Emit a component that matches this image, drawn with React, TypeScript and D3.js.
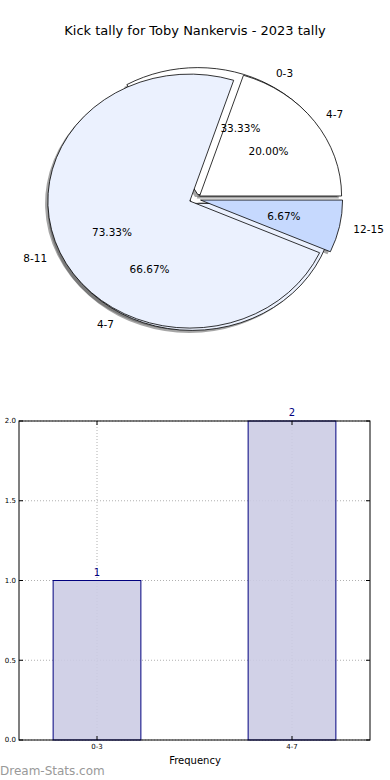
import React from 'react';
import * as d3 from 'd3';

// 下のパイ（度数）
const pieACats = ['0-3', '4-7'];
const pieAValues = [1, 2];
const pieAColors = ['#ffffff', '#ebf1fe'];

// 上のパイ
const pieBCats = ['4-7', '8-11', '12-15'];
const pieBValues = [3, 11, 1];
const pieBColors = ['#ffffff', '#ebf1fe', '#c6d9fe'];

// 棒グラフ
const barCats = ['0-3', '4-7'];
const barValues = [1, 2];
const yTicks = [0, 0.5, 1, 1.5, 2];

const title = 'Kick tally for Toby Nankervis - 2023 tally';
const font = '"DejaVu Sans", sans-serif';

const cx = 195;
const cy = 199;
const rx = 142;
const ry = 127;
const explode = 0.04;

type Slice = {
  cat: string;
  color: string;
  pct: number;
  a0: number;
  a1: number;
  ox: number;
  oy: number;
  mx: number;
  my: number;
};

// matplotlib式に東から反時計回り
const makeSlices = (cats: string[], values: number[], colors: string[]): Slice[] => {
  const total = d3.sum(values);
  const pie = d3.pie<number>().sort(null).startAngle(Math.PI / 2).endAngle(Math.PI / 2 - 2 * Math.PI);
  return pie(values).map((p, i) => {
    const mid = (p.startAngle + p.endAngle) / 2;
    const mx = Math.sin(mid);
    const my = -Math.cos(mid);
    return {
      cat: cats[i],
      color: colors[i],
      pct: (values[i] / total) * 100,
      a0: p.startAngle,
      a1: p.endAngle,
      ox: cx + explode * rx * mx,
      oy: cy + explode * ry * my,
      mx,
      my,
    };
  });
};

const arcGen = d3.arc<any>().innerRadius(0).outerRadius(1);

const PieLayer: React.FC<{ slices: Slice[]; part: 'shadow' | 'wedge' | 'text' }> = ({ slices, part }) => (
  <g>
    {slices.map((s, i) => {
      const d = arcGen({ startAngle: s.a0, endAngle: s.a1 }) as string;
      if (part === 'shadow') {
        return (
          <path key={i} d={d} transform={`translate(${s.ox - 2.8},${s.oy + 2.5}) scale(${rx},${ry})`}
            fill="#4d4d4d" fillOpacity={0.5} stroke="none" />
        );
      }
      if (part === 'wedge') {
        return (
          <path key={i} d={d} transform={`translate(${s.ox},${s.oy}) scale(${rx},${ry})`}
            fill={s.color} stroke="#000" strokeWidth={0.8} vectorEffect="non-scaling-stroke"
            strokeLinejoin="round" />
        );
      }
      const lx = s.ox + 1.1 * rx * s.mx;
      const ly = s.oy + 1.1 * ry * s.my;
      const px = s.ox + 0.6 * rx * s.mx;
      const py = s.oy + 0.6 * ry * s.my;
      return (
        <g key={i}>
          <text x={lx} y={ly} dy="0.35em" textAnchor={s.mx > 0 ? 'start' : 'end'} fontSize={10.5}>{s.cat}</text>
          <text x={px} y={py} dy="0.35em" textAnchor="middle" fontSize={10.5}>{d3.format('.2f')(s.pct)}%</text>
        </g>
      );
    })}
  </g>
);

const App: React.FC = () => {
  const slicesA = makeSlices(pieACats, pieAValues, pieAColors);
  const slicesB = makeSlices(pieBCats, pieBValues, pieBColors);

  const left = 19;
  const right = 370;
  const top = 421;
  const bottom = 740;
  const x = d3.scaleLinear().domain([-0.4, 1.4]).range([left, right]);
  const y = d3.scaleLinear().domain([0, 2]).range([bottom, top]);
  const barW = x(0.45) - x(0);
  const navy = '#00007f';

  return (
    <div style={{ position: 'absolute', left: 0, top: 0 }}>
      <svg width={390} height={780} style={{ display: 'block', fontFamily: font }}>
        <rect width={390} height={780} fill="#fff" />
        <text x={195} y={30} dy="0.35em" textAnchor="middle" fontSize={13}>{title}</text>

        <PieLayer slices={slicesA} part="shadow" />
        <PieLayer slices={slicesB} part="shadow" />
        <PieLayer slices={slicesA} part="wedge" />
        <PieLayer slices={slicesB} part="wedge" />
        <PieLayer slices={slicesA} part="text" />
        <PieLayer slices={slicesB} part="text" />

        {/* グリッド */}
        {yTicks.map(t => (
          <line key={'gy' + t} x1={left} x2={right} y1={y(t)} y2={y(t)} stroke="#b0b0b0" strokeDasharray="1,2" />
        ))}
        {barCats.map((c, i) => (
          <line key={'gx' + c} x1={x(i)} x2={x(i)} y1={top} y2={bottom} stroke="#b0b0b0" strokeDasharray="1,2" />
        ))}

        {/* 棒 */}
        {barValues.map((v, i) => (
          <g key={'b' + i}>
            <rect x={x(i) - barW / 2} y={y(v)} width={barW} height={bottom - y(v)}
              fill="#ccccE4" fillOpacity={0.9} stroke={navy} strokeWidth={1} />
            <text x={x(i)} y={y(v) - 5} textAnchor="middle" fontSize={10} fill={navy}>{v}</text>
          </g>
        ))}

        {/* 枠と目盛 */}
        <rect x={left} y={top} width={right - left} height={bottom - top} fill="none" stroke="#000" strokeWidth={1} />
        {yTicks.map(t => (
          <g key={'ty' + t}>
            <line x1={left} x2={left + 4} y1={y(t)} y2={y(t)} stroke="#000" />
            <line x1={right - 4} x2={right} y1={y(t)} y2={y(t)} stroke="#000" />
            <text x={left - 3} y={y(t)} dy="0.35em" textAnchor="end" fontSize={7}>{d3.format('.1f')(t)}</text>
          </g>
        ))}
        {barCats.map((c, i) => (
          <g key={'tx' + c}>
            <line x1={x(i)} x2={x(i)} y1={bottom} y2={bottom - 4} stroke="#000" />
            <line x1={x(i)} x2={x(i)} y1={top} y2={top + 4} stroke="#000" />
            <text x={x(i)} y={bottom + 7} dy="0.35em" textAnchor="middle" fontSize={7}>{c}</text>
          </g>
        ))}
        <text x={195} y={760} dy="0.35em" textAnchor="middle" fontSize={10}>Frequency</text>
        <text x={0} y={771} dy="0.35em" fontSize={12} fill="#999">Dream-Stats.com</text>
      </svg>
    </div>
  );
};

export default App;
